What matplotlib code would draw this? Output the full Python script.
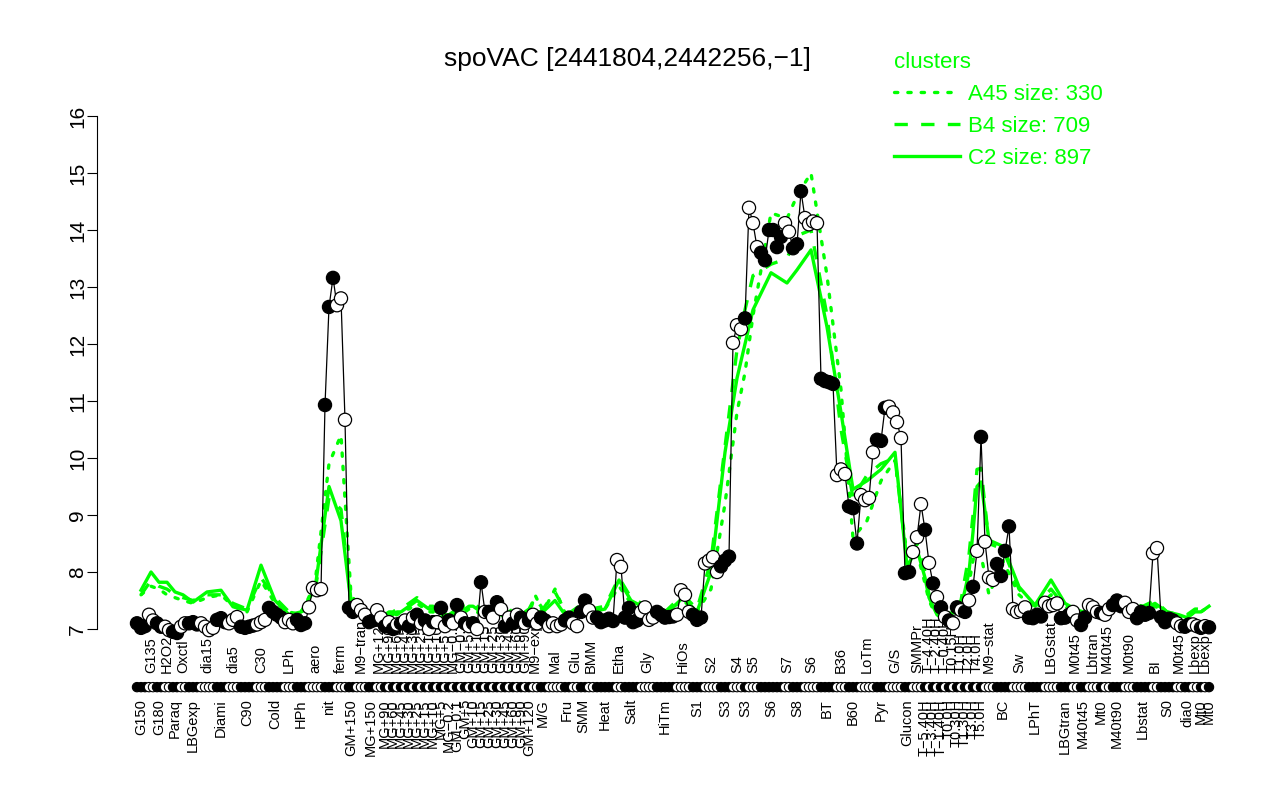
import matplotlib
matplotlib.use('Agg')
import matplotlib.pyplot as plt
from matplotlib.lines import Line2D
import numpy as np

plt.rcParams['font.family'] = ['Liberation Sans', 'DejaVu Sans']

# conditions in plotting order (labels alternate below / above the rug)
conditions = [
    'G150', 'G135', 'G180', 'H2O2', 'Paraq', 'Oxctl', 'LBGexp', 'dia15', 'Diami', 'dia5',
    'C90', 'C30', 'Cold', 'LPh', 'HPh', 'aero', 'nit', 'ferm', 'GM+150', 'M9−tran',
    'MG+150', 'MG+120',
    # glucose/malate shift time courses, one sample each
    'MG+90', 'MG+90', 'MG+60', 'MG+60', 'MG+45', 'MG+45', 'MG+30', 'MG+30', 'MG+25', 'MG+25',
    'MG+15', 'MG+15', 'MG+10', 'MG+10', 'MG+5', 'MG+5', 'MG−0.2', 'MG−0.2', 'GM−0.1', 'GM−0.1',
    'GM+5', 'GM+5', 'GM+10', 'GM+10', 'GM+15', 'GM+15', 'GM+25', 'GM+25', 'GM+30', 'GM+30',
    'GM+45', 'GM+45', 'GM+60', 'GM+60', 'GM+90', 'GM+90', 'GM+120',
    'M9−exp', 'M/G', 'Mal', 'Fru', 'Glu', 'SMM', 'BMM', 'Heat', 'Etha', 'Salt', 'Gly',
    'HiTm', 'HiOs', 'S1', 'S2', 'S3', 'S4', 'S3', 'S5', 'S6', 'S7',
    'S8', 'S6', 'BT', 'B36', 'B60', 'LoTm', 'Pyr', 'G/S', 'Glucon', 'SMMPr',
    'T−5.40H', 'T−4.40H', 'T−3.40H', 'T−2.40H', 'T−1.40H', 'T−0.40H', 'T0.0H', 'T0.15H', 'T0.30H', 'T1.0H',
    'T1.30H', 'T2.0H', 'T3.0H', 'T4.0H', 'T5.0H', 'M9−stat', 'BC', 'Sw', 'LPhT', 'LBGstat',
    'LBGtran', 'M0t45', 'M40t45', 'Lbtran', 'Mt0', 'M40t45', 'M40t90', 'M0t90', 'Lbstat', 'BI',
    'S0', 'M0t45', 'dia0', 'Lbexp', 'Mt0', 'Lbexp', 'Mt0',
]

# number of samples per condition
replicates = (
    [3, 2, 2, 2, 2, 2, 3, 4, 3, 3, 4, 3, 4, 3, 3, 4, 3, 3, 2, 3, 2, 2]
    + [1] * 37
    + [2, 2, 4, 2, 2, 2, 2, 5, 2, 4, 4,
       5, 4, 3, 4, 3, 3, 1, 3, 6, 2,
       3, 4, 4, 3, 3, 4, 3, 4, 2, 3]
    + [1] * 15
    + [3, 4, 4, 4, 4,
       3, 2, 2, 3, 1, 2, 3, 3, 4, 2,
       4, 2, 2, 2, 1, 1, 1]
)

# expression of every sample (log2)
expression = [
    7.10, 7.02, 7.05, 7.25, 7.15, 7.10, 7.04, 7.04, 6.98, 6.95, 6.93, 7.04, 7.10,
    7.10, 7.12, 7.08, 7.10, 7.04, 6.98, 7.02, 7.16, 7.19, 7.12, 7.10, 7.16, 7.21,
    7.04, 7.02, 7.04, 7.06, 7.08, 7.12, 7.16, 7.37, 7.30, 7.25, 7.20,
    7.12, 7.16, 7.10, 7.16, 7.07, 7.10, 7.38, 7.72, 7.68, 7.70,
    10.93, 12.65, 13.16, 12.68, 12.80, 10.67,
    7.37, 7.30, 7.42, 7.33, 7.25, 7.12, 7.15, 7.33, 7.20,
    7.05, 7.12, 7.00, 7.08, 7.10, 7.15, 7.05, 7.20, 7.25, 7.10, 7.15, 7.00, 7.12,
    7.12, 7.37, 7.05, 7.15, 7.10, 7.42, 7.20, 7.10, 7.05, 7.10, 7.00, 7.82,
    7.30, 7.30, 7.20, 7.47, 7.35, 7.05, 7.20, 7.10, 7.25, 7.20, 7.10, 7.15,
    7.25, 7.10, 7.20, 7.15, 7.05, 7.10, 7.05, 7.08, 7.15, 7.20, 7.10, 7.05,
    7.30, 7.50, 7.33, 7.20, 7.20, 7.12, 7.15, 7.18, 7.14, 8.21, 8.09,
    7.20, 7.37, 7.12, 7.15, 7.30, 7.38, 7.16, 7.20, 7.30, 7.25, 7.20, 7.21, 7.22,
    7.25, 7.68, 7.60, 7.30, 7.25, 7.16, 7.20,
    8.15, 8.20, 8.26, 8.00, 8.10, 8.20, 8.27, 12.02, 12.33, 12.26, 12.45,
    14.39, 14.12, 13.70, 13.60, 13.47, 14.00, 14.00, 13.70, 13.88, 14.12, 13.97,
    13.68, 13.75, 14.68, 14.21, 14.10, 14.15, 14.12,
    11.39, 11.35, 11.33, 11.30, 9.70, 9.80, 9.72, 9.15, 9.12, 8.50,
    9.35, 9.26, 9.30, 10.10, 10.32, 10.30, 10.88, 10.90, 10.80, 10.63, 10.35,
    7.98, 8.00, 8.35, 8.61, 9.19,
    8.74, 8.16, 7.80, 7.56, 7.38, 7.21, 7.15, 7.10, 7.38, 7.33, 7.30, 7.50, 7.74, 8.37, 10.37,
    8.53, 7.90, 7.86, 8.14, 7.93, 8.37, 8.80, 7.35, 7.30, 7.32, 7.38,
    7.20, 7.19, 7.25, 7.22, 7.46, 7.40, 7.42, 7.45, 7.19, 7.20, 7.25,
    7.30, 7.15, 7.07, 7.20, 7.42, 7.38, 7.30, 7.28, 7.25, 7.35,
    7.42, 7.50, 7.40, 7.46, 7.30, 7.35, 7.19, 7.30, 7.25, 7.28, 8.33, 8.42,
    7.21, 7.12, 7.18, 7.15, 7.10, 7.05, 7.04, 7.08, 7.08, 7.05, 7.02, 7.05, 7.03,
]

# cluster mean profiles, one value per condition
cluster_a45 = [
    7.60, 7.75, 7.70, 7.60, 7.55, 7.50, 7.45, 7.55, 7.60, 7.40,
    7.30, 7.85, 7.45, 7.30, 7.25, 7.80, 9.90, 10.40, 7.60, 7.35, 7.20, 7.25,
    7.20, 7.20, 7.25, 7.25, 7.30, 7.35, 7.35, 7.40, 7.45, 7.40,
    7.35, 7.30, 7.30, 7.25, 7.25, 7.20, 7.20, 7.25, 7.30, 7.30,
    7.30, 7.35, 7.35, 7.30, 7.25, 7.25, 7.30, 7.30, 7.25, 7.25,
    7.20, 7.20, 7.25, 7.25, 7.20, 7.20, 7.25,
    7.60, 7.30, 7.70, 7.20, 7.30, 7.40, 7.30, 7.35, 7.75, 7.45, 7.30,
    7.30, 7.50, 7.30, 7.70, 9.20, 10.80, 11.50, 12.50, 14.30, 14.20,
    14.60, 15.00, 13.20, 11.20, 8.60, 8.90, 9.60, 9.96, 8.30, 8.35,
    7.80, 7.50, 7.35, 7.30, 7.30, 7.30, 7.30, 7.35, 7.40, 7.50,
    7.60, 7.80, 8.20, 8.50, 8.30, 7.60, 8.20, 7.60, 7.35, 7.60,
    7.35, 7.30, 7.20, 7.30, 7.25, 7.30, 7.40, 7.40, 7.30, 7.40,
    7.25, 7.20, 7.20, 7.30, 7.30, 7.35, 7.40,
]
cluster_b4 = [
    7.60, 7.85, 7.75, 7.70, 7.60, 7.55, 7.50, 7.60, 7.60, 7.45,
    7.35, 7.90, 7.55, 7.30, 7.30, 7.65, 9.30, 9.10, 7.50, 7.35, 7.25, 7.30,
    7.25, 7.30, 7.30, 7.35, 7.35, 7.40, 7.45, 7.50, 7.55, 7.50,
    7.45, 7.40, 7.40, 7.35, 7.35, 7.30, 7.30, 7.35, 7.35, 7.40,
    7.40, 7.45, 7.45, 7.40, 7.35, 7.35, 7.40, 7.40, 7.35, 7.35,
    7.30, 7.30, 7.35, 7.35, 7.30, 7.30, 7.35,
    7.55, 7.35, 7.65, 7.25, 7.35, 7.45, 7.35, 7.40, 7.90, 7.55, 7.40,
    7.30, 7.60, 7.35, 8.20, 10.20, 11.90, 12.60, 13.20, 13.40, 13.50,
    13.90, 14.00, 12.50, 10.50, 9.30, 9.70, 9.90, 10.00, 8.20, 8.50,
    8.00, 7.60, 7.40, 7.30, 7.25, 7.30, 7.30, 7.35, 7.40, 7.50,
    7.90, 8.30, 9.00, 9.80, 9.82, 8.50, 8.40, 7.70, 7.40, 7.70,
    7.40, 7.30, 7.25, 7.35, 7.30, 7.35, 7.45, 7.45, 7.40, 7.50,
    7.30, 7.25, 7.25, 7.35, 7.35, 7.40, 7.45,
]
cluster_c2 = [
    7.68, 8.00, 7.82, 7.82, 7.65, 7.60, 7.47, 7.65, 7.68, 7.39,
    7.33, 8.12, 7.50, 7.25, 7.30, 7.70, 9.50, 8.90, 7.45, 7.30, 7.25, 7.30,
    7.20, 7.25, 7.25, 7.30, 7.30, 7.35, 7.40, 7.45, 7.50, 7.45,
    7.40, 7.35, 7.35, 7.30, 7.30, 7.25, 7.25, 7.30, 7.30, 7.35,
    7.35, 7.40, 7.40, 7.35, 7.30, 7.30, 7.35, 7.35, 7.30, 7.30,
    7.25, 7.25, 7.30, 7.30, 7.25, 7.25, 7.30,
    7.30, 7.30, 7.50, 7.20, 7.30, 7.40, 7.30, 7.35, 7.86, 7.50, 7.35,
    7.25, 7.55, 7.30, 8.00, 10.10, 11.40, 12.00, 12.60, 13.25, 13.07,
    13.30, 13.65, 12.30, 10.80, 9.45, 9.60, 9.80, 10.10, 8.10, 8.40,
    7.90, 7.55, 7.40, 7.25, 7.20, 7.25, 7.28, 7.28, 7.30, 7.40,
    7.68, 8.00, 8.70, 9.50, 9.58, 8.56, 8.45, 7.74, 7.42, 7.86,
    7.45, 7.35, 7.30, 7.40, 7.30, 7.35, 7.40, 7.45, 7.35, 7.45,
    7.30, 7.25, 7.20, 7.30, 7.30, 7.35, 7.40,
]

cluster_names = ['A45 size: 330', 'B4 size: 709', 'C2 size: 897']

GREEN = '#00ff00'

# sample positions, condition centres and fill colours
x = np.arange(len(expression))
group = np.repeat(np.arange(len(conditions)), replicates)
starts = np.cumsum([0] + replicates[:-1])
centers = [s + (n - 1) / 2 for s, n in zip(starts, replicates)]
fills = ['black' if g % 2 == 0 else 'white' for g in group]

fig = plt.figure(figsize=(12.8, 8), dpi=100)
ax = fig.add_axes([97 / 1280, 171 / 800, 1153 / 1280, 513 / 800])

# cluster profiles
ax.plot(centers, cluster_a45, color=GREEN, lw=2.4, ls=(0, (1, 3)), dash_capstyle='round', zorder=2)
ax.plot(centers, cluster_b4, color=GREEN, lw=2.4, ls=(0, (4, 4)), zorder=2)
ax.plot(centers, cluster_c2, color=GREEN, lw=2.4, zorder=2)

# gene profile
ax.plot(x, expression, color='black', lw=0.9, zorder=3)
ax.scatter(x, expression, s=90, c=fills, edgecolors='black', linewidths=0.9, zorder=4, clip_on=False)

# rug of samples below the plot
ax.scatter(x, np.full(len(x), 5.98), s=45, c=fills, edgecolors='black', linewidths=0.8,
           zorder=4, clip_on=False)

# condition labels, alternating below and above the rug
for i, (name, c) in enumerate(zip(conditions, centers)):
    if i % 2 == 0:
        ax.text(c, 5.77, name, rotation=90, ha='center', va='top', fontsize=10.5)
    else:
        ax.text(c, 6.23, name, rotation=90, ha='center', va='bottom', fontsize=10.5)

ax.set_xlim(-10, 278.25)
ax.set_ylim(7, 16)
ax.set_yticks(range(7, 17))
ax.set_xticks([])
for side in ['top', 'right', 'bottom']:
    ax.spines[side].set_visible(False)
ax.spines['left'].set_bounds(7, 16)
ax.tick_params(axis='y', length=7, labelsize=15, pad=0)
plt.setp(ax.get_yticklabels(), rotation=90, va='center')

fig.text(627 / 1280, 1 - 59 / 800, 'spoVAC [2441804,2442256,−1]', ha='center', va='center',
         fontsize=19)

handles = [
    Line2D([], [], color=GREEN, lw=2.4, ls=(0, (1, 3)), dash_capstyle='round'),
    Line2D([], [], color=GREEN, lw=2.4, ls=(0, (4, 4))),
    Line2D([], [], color=GREEN, lw=2.4),
]
leg = ax.legend(handles, cluster_names, title='clusters', loc='upper left',
                bbox_to_anchor=(878 / 1280, 1 - 36 / 800), bbox_transform=fig.transFigure,
                frameon=False, fontsize=16, title_fontsize=16, handlelength=3.0,
                handletextpad=0.35, labelspacing=0.5, borderpad=0.2,
                labelcolor=GREEN, alignment='left')
leg.get_title().set_color(GREEN)

fig.savefig('out.png', dpi=100)
